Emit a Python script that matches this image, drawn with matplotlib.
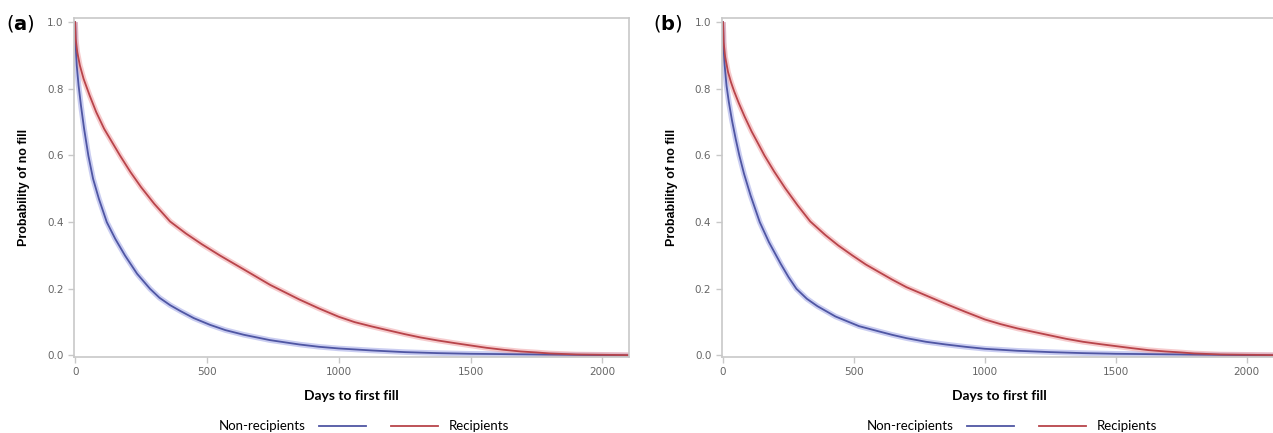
import matplotlib
matplotlib.use("Agg")
from matplotlib import pyplot
from matplotlib.lines import Line2D

# survival curves (days, probability of no fill)
days_a_blue = [0, 2, 6, 13, 22, 34, 50, 68, 90, 120, 152, 189, 235, 284, 320, 360, 400, 450, 511, 570, 640, 739, 850, 925, 1000, 1125, 1250, 1375, 1500, 1750, 2000, 2100]
prob_a_blue = [1.0, 0.93, 0.87, 0.81, 0.75, 0.68, 0.6, 0.53, 0.47, 0.4, 0.35, 0.3, 0.245, 0.2, 0.173, 0.151, 0.133, 0.112, 0.092, 0.076, 0.062, 0.046, 0.033, 0.026, 0.021, 0.015, 0.01, 0.007, 0.005, 0.003, 0.001, 0.0]
days_a_red = [0, 2, 8, 18, 32, 55, 80, 110, 140, 170, 210, 250, 300, 360, 420, 480, 549, 640, 739, 850, 925, 1000, 1060, 1125, 1190, 1250, 1310, 1375, 1440, 1500, 1560, 1625, 1690, 1750, 1800, 1900, 2000, 2100]
prob_a_red = [1.0, 0.95, 0.91, 0.87, 0.83, 0.78, 0.73, 0.68, 0.64, 0.6, 0.55, 0.505, 0.455, 0.402, 0.366, 0.334, 0.3, 0.258, 0.212, 0.168, 0.141, 0.116, 0.1, 0.087, 0.075, 0.064, 0.054, 0.045, 0.037, 0.03, 0.023, 0.017, 0.012, 0.009, 0.006, 0.003, 0.002, 0.001]

days_b_blue = [0, 2, 6, 13, 22, 34, 48, 62, 80, 105, 140, 175, 220, 250, 280, 320, 360, 429, 519, 596, 645, 700, 775, 850, 925, 1000, 1125, 1250, 1375, 1500, 1750, 2000, 2115]
prob_b_blue = [1.0, 0.92, 0.87, 0.81, 0.76, 0.705, 0.65, 0.6, 0.545, 0.48, 0.4, 0.34, 0.275, 0.235, 0.2, 0.17, 0.148, 0.117, 0.088, 0.072, 0.062, 0.052, 0.041, 0.033, 0.026, 0.02, 0.014, 0.01, 0.007, 0.005, 0.003, 0.001, 0.0]
days_b_red = [0, 2, 8, 19, 30, 42, 60, 82, 109, 135, 158, 195, 237, 285, 333, 391, 440, 494, 545, 596, 645, 700, 775, 850, 925, 1000, 1060, 1125, 1190, 1250, 1310, 1375, 1440, 1500, 1560, 1625, 1690, 1750, 1800, 1900, 2000, 2115]
prob_b_red = [1.0, 0.94, 0.895, 0.85, 0.82, 0.793, 0.757, 0.717, 0.672, 0.634, 0.6, 0.552, 0.502, 0.45, 0.402, 0.361, 0.33, 0.3, 0.273, 0.25, 0.228, 0.205, 0.18, 0.155, 0.131, 0.108, 0.094, 0.081, 0.07, 0.06, 0.05, 0.041, 0.034, 0.028, 0.022, 0.016, 0.012, 0.009, 0.006, 0.003, 0.002, 0.001]

panels = [('a', days_a_blue, prob_a_blue, days_a_red, prob_a_red),
          ('b', days_b_blue, prob_b_blue, days_b_red, prob_b_red)]
x_ticks = [0, 500, 1000, 1500, 2000]
y_ticks = [0.0, 0.2, 0.4, 0.6, 0.8, 1.0]

blue = '#4f56a3'
red = '#b8444a'
blue_band = '#a7ade8'
red_band = '#f0a9ac'
spine_col = '#c8c8c8'
tick_col = '#666666'

fig = pyplot.figure(figsize=(12.73, 4.33), dpi=100)
axes_pos = [[0.058, 0.176, 0.436, 0.782], [0.567, 0.176, 0.436, 0.782]]
label_x = [0.005, 0.513]

for i, (name, xb, yb, xr, yr) in enumerate(panels):
    ax = fig.add_axes(axes_pos[i])
    # confidence band look: wide pale line under the curve
    ax.plot(xb, yb, color=blue_band, lw=4.0, alpha=0.6, solid_capstyle='butt')
    ax.plot(xr, yr, color=red_band, lw=4.0, alpha=0.6, solid_capstyle='butt')
    ax.plot(xb, yb, color=blue, lw=1.3)
    ax.plot(xr, yr, color=red, lw=1.3)
    ax.set_xlim(-5, 2100 if name == 'a' else 2115)
    ax.set_ylim(-0.004, 1.012)
    ax.set_xticks(x_ticks)
    ax.set_yticks(y_ticks)
    ax.set_yticklabels(['{:.1f}'.format(v) for v in y_ticks])
    for s in ax.spines.values():
        s.set_color(spine_col)
        s.set_linewidth(1.2)
    if name == 'b':
        ax.spines['right'].set_visible(False)
    ax.tick_params(colors=spine_col, labelcolor=tick_col, labelsize=7.5, length=4, width=1)
    ax.set_xlabel('Days to first fill', fontsize=10, fontweight='bold', family='Lato', labelpad=9)
    ax.set_ylabel('Probability of no fill', fontsize=9, fontweight='bold', family='Liberation Sans', labelpad=12)
    fig.text(label_x[i], 0.922, r'($\mathbf{' + name + '}$)', fontsize=14, va='bottom')

    h_blue = Line2D([], [], color=blue, lw=1.3)
    h_red = Line2D([], [], color=red, lw=1.3)
    leg1 = ax.legend([h_blue], ['Non-recipients'], markerfirst=False, frameon=False,
                     loc='center right', bbox_to_anchor=(0.548, -0.205),
                     prop={'family': 'Lato', 'size': 9.5}, handlelength=3.6, handletextpad=1.0)
    ax.add_artist(leg1)
    ax.legend([h_red], ['Recipients'], frameon=False, loc='center left',
              bbox_to_anchor=(0.55, -0.205), prop={'family': 'Lato', 'size': 9.5},
              handlelength=3.6, handletextpad=0.8)

fig.savefig('out.png', dpi=100)
